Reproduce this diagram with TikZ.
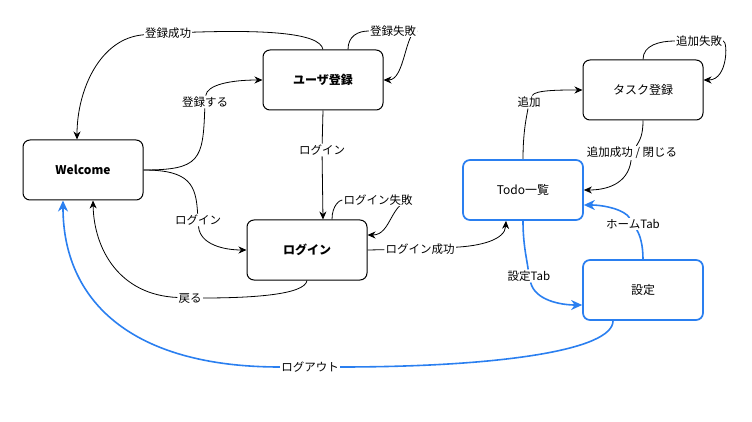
\documentclass[tikz,border=0pt]{standalone}
\usepackage{fontspec}
\setmainfont{Noto Sans CJK JP}
\usetikzlibrary{arrows.meta}
\usetikzlibrary{backgrounds}
\definecolor{tabblue}{HTML}{2A7FF0}

\begin{document}
\begin{tikzpicture}[x=1pt, y=-1pt,
    screen/.style={draw, fill=white, line width=1pt, rounded corners=7pt, minimum width=120pt,
        minimum height=60pt, font=\fontsize{12}{14}\selectfont},
    tabscreen/.style={screen, draw=tabblue, line width=1.7pt},
    elabel/.style={fill=white, inner sep=1pt, font=\fontsize{11.5}{13}\selectfont},
    flow/.style={-{Stealth[length=8pt, width=7pt, inset=2.5pt]}, line width=0.8pt},
    tabflow/.style={-{Stealth[length=11pt, width=10pt, inset=3.5pt]}, draw=tabblue, line width=1.6pt}]
            \useasboundingbox (0,0) rectangle (752,422);

            % Screens
            \node[screen] (welcome) at (83,170) {\textbf{Welcome}};
            \node[screen] (userreg) at (323,80) {\textbf{ユーザ登録}};
            \node[screen] (login) at (307,250) {\textbf{ログイン}};
            \node[screen] (taskreg) at (643,90) {タスク登録};
            \node[tabscreen] (todo) at (523,190) {Todo一覧};
            \node[tabscreen] (settings) at (643,290) {設定};

            % Labels
            \node[elabel] (regok) at (168,33) {登録成功};
            \node[elabel] (regng) at (393,31) {登録失敗};
            \node[elabel] (reg) at (205,102) {登録する};
            \node[elabel] (loginA) at (322,150) {ログイン};
            \node[elabel] (loginng) at (378,200) {ログイン失敗};
            \node[elabel] (loginB) at (198,220) {ログイン};
            \node[elabel] (back) at (190,298) {戻る};
            \node[elabel] (loginok) at (420,249) {ログイン成功};
            \node[elabel] (add) at (529,102) {追加};
            \node[elabel] (addng) at (699,41) {追加失敗};
            \node[elabel] (addok) at (632,153) {追加成功 / 閉じる};
            \node[elabel] (settab) at (529,276) {設定Tab};
            \node[elabel] (hometab) at (633,224) {ホームTab};
            \node[elabel] (logout) at (310,367) {ログアウト};

            % Transitions
            \begin{scope}[on background layer]
            \draw[flow] (userreg.north) .. controls (320,32) and (260,30) .. (regok)
                .. controls (100,38) and (77,90) .. ([xshift=-6pt]welcome.north);
            \draw[flow] ([xshift=25pt]userreg.north) .. controls (348,36) and (358,31) .. (regng)
                .. controls (405,31) and (405,80) .. (userreg.east);
            \draw[flow] (welcome.east) .. controls (200,170) and (203,160) .. (reg)
                .. controls (207,85) and (230,80) .. (userreg.west);
            \draw[flow] (userreg.south) -- (loginA) -- (userreg.south |- login.north);
            \draw[flow] ([xshift=25pt]login.north) .. controls (332,205) and (340,200) .. (loginng)
                .. controls (390,200) and (392,235) .. ([yshift=15pt]login.east);
            \draw[flow] (welcome.east) .. controls (190,170) and (196,185) .. (loginB)
                .. controls (200,245) and (225,250) .. (login.west);
            \draw[flow] (login.south) .. controls (305,295) and (250,298) .. (back)
                .. controls (120,295) and (94,250) .. ([xshift=10pt]welcome.south);
            \draw[flow] (login.east) -- (loginok)
                .. controls (480,246) and (505,240) .. ([xshift=-17pt]todo.south);
            \draw[flow] (todo.north) .. controls (523,130) and (527,115) .. (add)
                .. controls (535,90) and (560,90) .. (taskreg.west);
            \draw[flow] (taskreg.north) .. controls (643,45) and (660,41) .. (addng)
                .. controls (728,41) and (728,80) .. ([yshift=10pt]taskreg.east);
            \draw[flow] (taskreg.south) .. controls (643,135) and (640,140) .. (addok)
                .. controls (628,185) and (605,190) .. (todo.east);
            \draw[tabflow] (todo.south) .. controls (523,245) and (527,260) .. (settab)
                .. controls (535,300) and (560,305) .. ([yshift=-15pt]settings.west);
            \draw[tabflow] (settings.north) .. controls (643,245) and (640,235) .. (hometab)
                .. controls (625,210) and (605,205) .. ([yshift=-15pt]todo.east);
            \draw[tabflow] ([xshift=-30pt]settings.south) .. controls (613,350) and (500,367) .. (logout)
                .. controls (130,367) and (63,300) .. ([xshift=-20pt]welcome.south);
            \end{scope}
        \end{tikzpicture}
\end{document}
